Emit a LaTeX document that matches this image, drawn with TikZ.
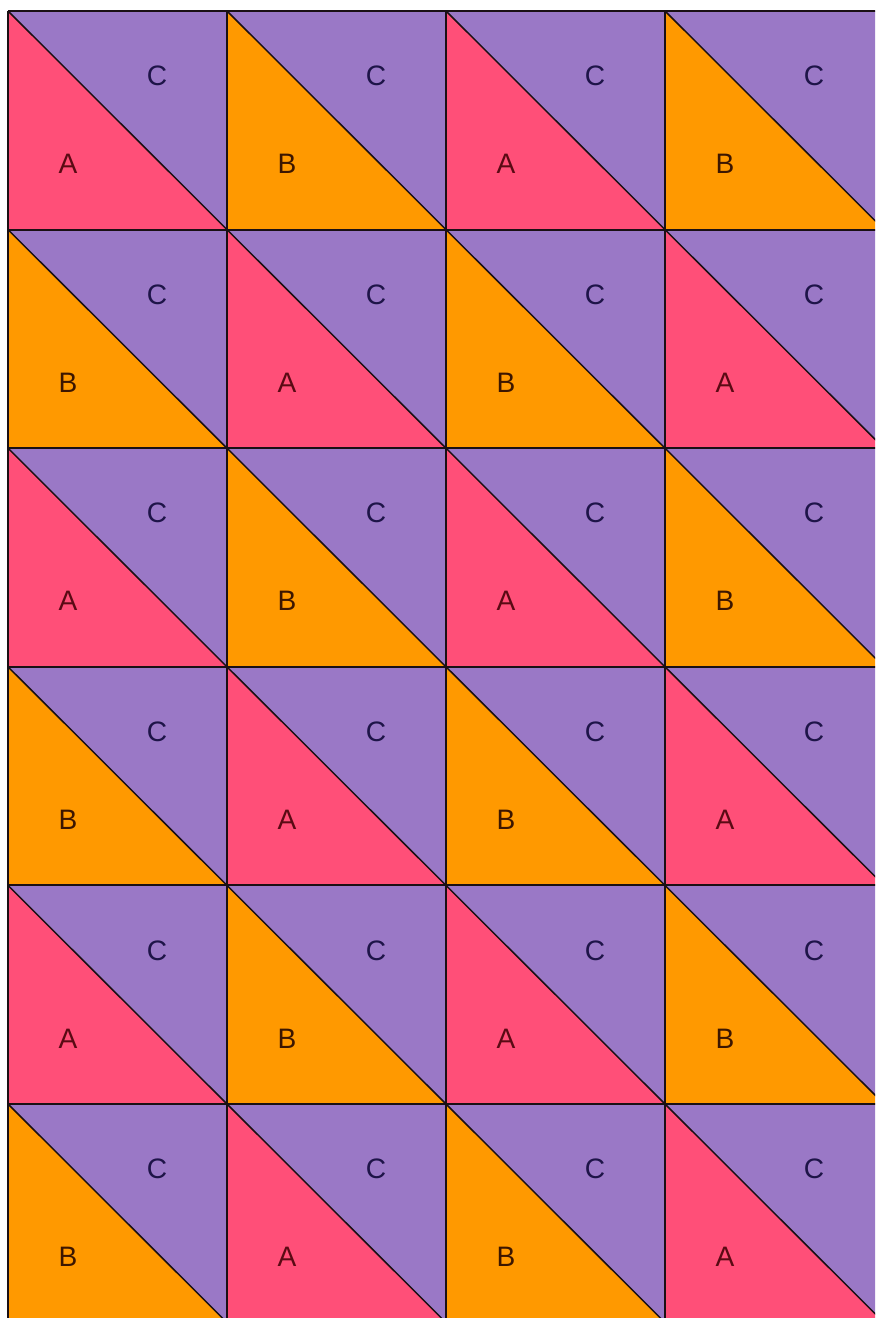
\documentclass[tikz,border=0pt]{standalone}
\usepackage{fontspec}
\setsansfont{Liberation Sans}
\definecolor{colA}{HTML}{FF4F78}
\definecolor{colB}{HTML}{FF9900}
\definecolor{colC}{HTML}{9A78C6}
\definecolor{txtA}{HTML}{5A0A14}
\definecolor{txtB}{HTML}{3C1600}
\definecolor{txtC}{HTML}{1E1448}
\definecolor{ink}{HTML}{1A1014}
\tikzset{
  tri/.style={fill=col#1, draw=none},
  diag/.style={draw=ink, line width=0.42pt},
  gridline/.style={draw=ink, line width=0.56pt},
  letter/.style={font=\sffamily\fontsize{8}{9}\selectfont, text=txt#1, inner sep=0pt},
}

\begin{document}
\begin{tikzpicture}[x=0.01cm, y=-0.01cm]
  \useasboundingbox (0,0) rectangle (875,1318);
  \clip (0,0) rectangle (875,1318);
  % ============ half-square cells: lower-left A/B, upper-right C ============
  \foreach \r in {0,...,5}{
    \foreach \c in {0,...,3}{
      \pgfmathsetmacro{\xa}{8+219*\c}
      \pgfmathsetmacro{\xb}{8+219*(\c+1)}
      \pgfmathsetmacro{\ya}{11+218.6*\r}
      \pgfmathsetmacro{\yb}{11+218.6*(\r+1)}
      \pgfmathtruncatemacro{\odd}{mod(\r+\c,2)}
      \ifnum\odd=0 \def\lo{A}\else \def\lo{B}\fi
      \fill[tri=\lo] (\xa,\ya) -- (\xa,\yb) -- (\xb,\yb) -- cycle;
      \fill[tri=C] (\xa,\ya) -- (\xb,\ya) -- (\xb,\yb) -- cycle;
      \draw[diag] (\xa,\ya) -- (\xb,\yb);
      \node[letter=C] (C-\r-\c) at (\xa+149,\ya+65) {C};
      \node[letter=\lo] (L-\r-\c) at (\xa+60,\ya+153) {\lo};
    }
  }
  % ============ grid ============
  \foreach \c in {0,...,4}{
    \draw[gridline] ({8+219*\c},11) -- ({8+219*\c},1330);}
  \foreach \r in {0,...,6}{
    \draw[gridline] (8,{11+218.6*\r}) -- (890,{11+218.6*\r});}
\end{tikzpicture}
\end{document}
